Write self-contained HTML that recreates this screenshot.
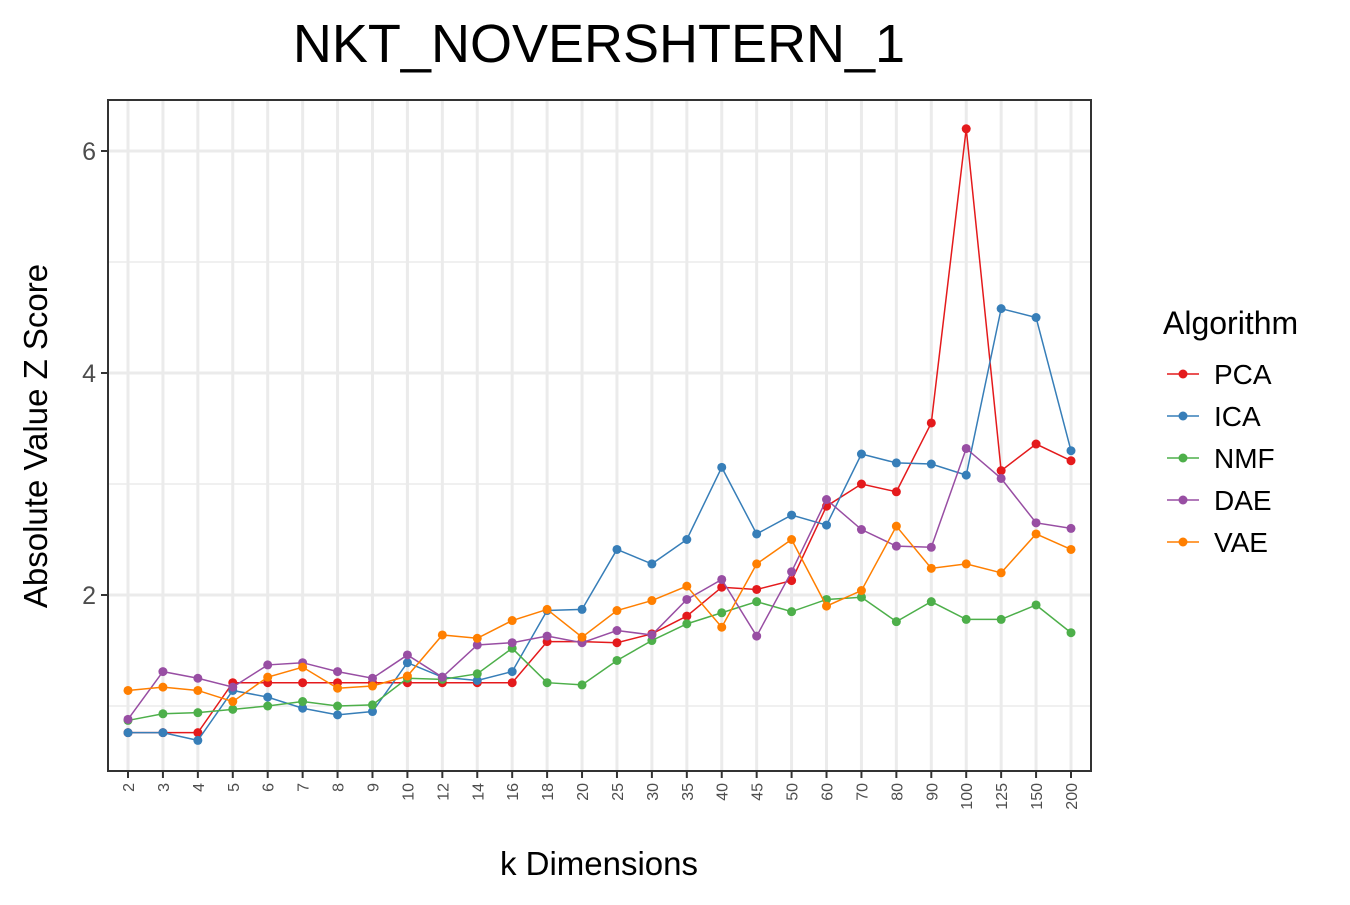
<!DOCTYPE html>
<html><head><meta charset="utf-8"><style>
body{margin:0;background:#fff;font-family:"Liberation Sans",Arial,sans-serif}
</style></head><body>
<svg id="chart" width="1350" height="900" xmlns="http://www.w3.org/2000/svg" font-family="Liberation Sans, Arial, sans-serif">
<text x="599" y="62" font-size="54" text-anchor="middle" fill="#000">NKT_NOVERSHTERN_1</text>
<g id="grid"></g>
<g id="series"></g>
<rect x="108" y="100" width="983" height="671" fill="none" stroke="#333" stroke-width="2"/>
<g id="axes"></g>
<text x="599" y="875" font-size="33" text-anchor="middle">k Dimensions</text>
<text transform="translate(47,436) rotate(-90)" font-size="33" text-anchor="middle">Absolute Value Z Score</text>
<g id="legend"></g>
</svg>
<script>
const categories=["2","3","4","5","6","7","8","9","10","12","14","16","18","20","25","30","35","40","45","50","60","70","80","90","100","125","150","200"];
const pca=[0.76,0.76,0.76,1.21,1.21,1.21,1.21,1.21,1.21,1.21,1.21,1.21,1.58,1.58,1.57,1.65,1.81,2.07,2.05,2.13,2.80,3.00,2.93,3.55,6.20,3.12,3.36,3.21];
const ica=[0.76,0.76,0.69,1.14,1.08,0.98,0.92,0.95,1.39,1.26,1.23,1.31,1.86,1.87,2.41,2.28,2.50,3.15,2.55,2.72,2.63,3.27,3.19,3.18,3.08,4.58,4.50,3.30];
const nmf=[0.87,0.93,0.94,0.97,1.00,1.04,1.00,1.01,1.25,1.24,1.29,1.52,1.21,1.19,1.41,1.59,1.74,1.84,1.94,1.85,1.96,1.98,1.76,1.94,1.78,1.78,1.91,1.66];
const dae=[0.88,1.31,1.25,1.17,1.37,1.39,1.31,1.25,1.46,1.26,1.55,1.57,1.63,1.57,1.68,1.64,1.96,2.14,1.63,2.21,2.86,2.59,2.44,2.43,3.32,3.05,2.65,2.60];
const vae=[1.14,1.17,1.14,1.04,1.26,1.35,1.16,1.18,1.27,1.64,1.61,1.77,1.87,1.62,1.86,1.95,2.08,1.71,2.28,2.50,1.90,2.04,2.62,2.24,2.28,2.20,2.55,2.41];
const seriesNames=["PCA","ICA","NMF","DAE","VAE"];
const seriesColors=["#e41a1c","#377eb8","#4daf4a","#984ea3","#ff7f00"];
const yTicks=[2,4,6];
const yMinor=[1,3,5];

const NS="http://www.w3.org/2000/svg";
const L=108,R=1091,T=100,B=771;
const x=i=>128+i*(1071-128)/(categories.length-1);
const y=v=>595-(v-2)*111;
function mk(tag,attrs,parent){const e=document.createElementNS(NS,tag);for(const k in attrs)e.setAttribute(k,attrs[k]);parent.appendChild(e);return e;}
const grid=document.getElementById('grid'),axes=document.getElementById('axes'),ser=document.getElementById('series'),leg=document.getElementById('legend');
yMinor.forEach(v=>{const l=mk('line',{x1:L,x2:R,y1:y(v),y2:y(v),stroke:'#ebebeb','stroke-width':1.5},grid);

});
yTicks.forEach(v=>{const l=mk('line',{x1:L,x2:R,y1:y(v),y2:y(v),stroke:'#ebebeb','stroke-width':3},grid);


const t=mk('line',{x1:L-7,x2:L,y1:y(v),y2:y(v),stroke:'#333','stroke-width':2},axes);


const tx=mk('text',{x:L-12,y:y(v)+9,'font-size':25,'text-anchor':'end',fill:'#4d4d4d'},axes);tx.textContent=v;

});
categories.forEach((c,i)=>{const l=mk('line',{x1:x(i),x2:x(i),y1:T,y2:B,stroke:'#ebebeb','stroke-width':3},grid);


const t=mk('line',{x1:x(i),x2:x(i),y1:B,y2:B+7,stroke:'#333','stroke-width':2},axes);


const tx=mk('text',{transform:`translate(${x(i)+6},${B+12}) rotate(-90)`,'font-size':16,'text-anchor':'end',fill:'#4d4d4d'},axes);tx.textContent=c;

});
[pca,ica,nmf,dae,vae].forEach((d,s)=>{const g=mk('g',{},ser);


const p=mk('polyline',{points:d.map((v,i)=>x(i)+','+y(v)).join(' '),fill:'none',stroke:seriesColors[s],'stroke-width':1.5},g);


d.forEach((v,i)=>{const c=mk('circle',{cx:x(i),cy:y(v),r:4.5,fill:seriesColors[s]},g);

});});
const lt=mk('text',{x:1163,y:334,'font-size':32},leg);lt.textContent='Algorithm';


seriesNames.forEach((n,s)=>{const yy=374+s*42;const g=mk('g',{},leg);


mk('line',{x1:1167,x2:1199,y1:yy,y2:yy,stroke:seriesColors[s],'stroke-width':1.5},g);
mk('circle',{cx:1183,cy:yy,r:4.5,fill:seriesColors[s]},g);
const t=mk('text',{x:1214,y:yy+10,'font-size':28},g);t.textContent=n;});
</script>
</body></html>
